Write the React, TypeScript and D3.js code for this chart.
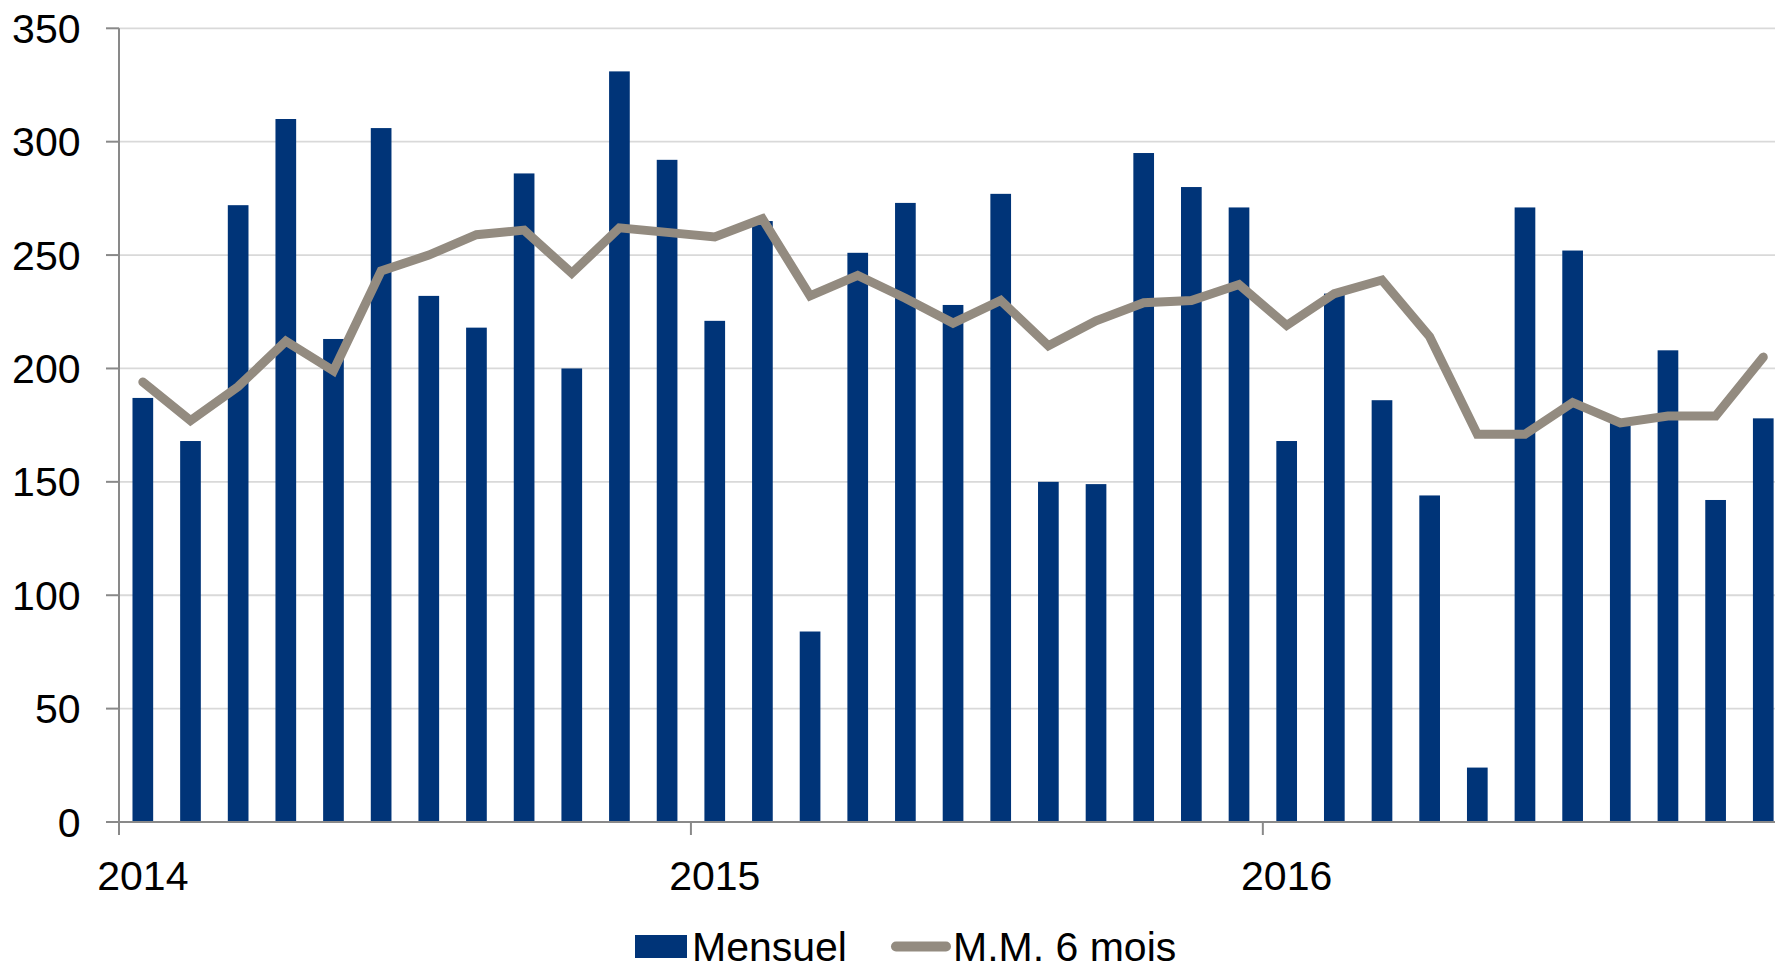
import React, { useEffect, useRef } from 'react';
import * as d3 from 'd3';

// months Jan 2014 .. Nov 2016
const months = [
  '2014-01', '2014-02', '2014-03', '2014-04', '2014-05', '2014-06',
  '2014-07', '2014-08', '2014-09', '2014-10', '2014-11', '2014-12',
  '2015-01', '2015-02', '2015-03', '2015-04', '2015-05', '2015-06',
  '2015-07', '2015-08', '2015-09', '2015-10', '2015-11', '2015-12',
  '2016-01', '2016-02', '2016-03', '2016-04', '2016-05', '2016-06',
  '2016-07', '2016-08', '2016-09', '2016-10', '2016-11',
];

const mensuel = [
  187, 168, 272, 310, 213, 306, 232, 218, 286, 200, 331, 292,
  221, 265, 84, 251, 273, 228, 277, 150, 149, 295, 280, 271,
  168, 233, 186, 144, 24, 271, 252, 176, 208, 142, 178,
];

const moyenneMobile = [
  194, 177, 192, 212, 199, 243, 250, 259, 261, 242, 262, 260,
  258, 266, 232, 241, 231, 220, 230, 210, 221, 229, 230, 237,
  219, 233, 239, 214, 171, 171, 185, 176, 179, 179, 205,
];

const yTicks = [0, 50, 100, 150, 200, 250, 300, 350];
const yearLabels = ['2014', '2015', '2016'];
const seriesNames = ['Mensuel', 'M.M. 6 mois'];

const FONT = "'Liberation Sans', Arial, sans-serif";
const NAVY = '#003478';
const TAUPE = '#938b80';

const App = () => {
  const svgRef = useRef<SVGSVGElement | null>(null);

  useEffect(() => {
    const width = 1775;
    const left = 119;
    const step = 47.66;
    const x0 = 822;
    const yTop = 28.3;

    const svg = d3.select(svgRef.current);
    svg.selectAll('*').remove();

    const xScale = d3.scaleBand<string>()
      .domain(months)
      .range([left, left + step * months.length])
      .paddingInner(0.566)
      .paddingOuter(0.283);

    const yScale = d3.scaleLinear().domain([0, 350]).range([x0, yTop]);

    // gridlines
    svg.append('g')
      .selectAll('line')
      .data(yTicks.filter(d => d > 0))
      .join('line')
      .attr('x1', left)
      .attr('x2', width)
      .attr('y1', d => yScale(d))
      .attr('y2', d => yScale(d))
      .attr('stroke', '#d9d9d9')
      .attr('stroke-width', 1.8);

    // bars
    svg.append('g')
      .selectAll('rect')
      .data(mensuel)
      .join('rect')
      .attr('x', (d, i) => xScale(months[i]) as number)
      .attr('y', d => yScale(d))
      .attr('width', xScale.bandwidth())
      .attr('height', d => yScale(0) - yScale(d))
      .attr('fill', NAVY);

    // axes
    const axisColor = '#898989';
    svg.append('line')
      .attr('x1', left).attr('x2', left)
      .attr('y1', yScale(350)).attr('y2', yScale(0) + 13)
      .attr('stroke', axisColor).attr('stroke-width', 2);
    svg.append('line')
      .attr('x1', left).attr('x2', width)
      .attr('y1', yScale(0)).attr('y2', yScale(0))
      .attr('stroke', axisColor).attr('stroke-width', 2);

    // y ticks + labels
    const yg = svg.append('g');
    yg.selectAll('line')
      .data(yTicks)
      .join('line')
      .attr('x1', left - 13).attr('x2', left)
      .attr('y1', d => yScale(d)).attr('y2', d => yScale(d))
      .attr('stroke', axisColor).attr('stroke-width', 2);
    yg.selectAll('text')
      .data(yTicks)
      .join('text')
      .attr('x', 80.5)
      .attr('y', d => yScale(d) + 14.5)
      .attr('text-anchor', 'end')
      .style('font-family', FONT)
      .style('font-size', '41px')
      .style('fill', '#000')
      .text(d => d);

    // year ticks + labels
    const xg = svg.append('g');
    yearLabels.forEach(yr => {
      const m = `${yr}-01`;
      const start = (xScale(m) as number) - xScale.step() * 0.283;
      const center = (xScale(m) as number) + xScale.bandwidth() / 2;
      xg.append('line')
        .attr('x1', start).attr('x2', start)
        .attr('y1', yScale(0)).attr('y2', yScale(0) + 13)
        .attr('stroke', axisColor).attr('stroke-width', 2);
      xg.append('text')
        .attr('x', center)
        .attr('y', 889.5)
        .attr('text-anchor', 'middle')
        .style('font-family', FONT)
        .style('font-size', '41px')
        .style('fill', '#000')
        .text(yr);
    });

    // moving average line
    const line = d3.line<number>()
      .x((d, i) => (xScale(months[i]) as number) + xScale.bandwidth() / 2)
      .y(d => yScale(d));

    svg.append('path')
      .datum(moyenneMobile)
      .attr('d', line)
      .attr('fill', 'none')
      .attr('stroke', TAUPE)
      .attr('stroke-width', 9)
      .attr('stroke-linejoin', 'miter')
      .attr('stroke-linecap', 'round');

    // legend
    const legend = svg.append('g');
    legend.append('rect')
      .attr('x', 635).attr('y', 935)
      .attr('width', 52).attr('height', 23)
      .attr('fill', NAVY);
    legend.append('text')
      .attr('x', 692).attr('y', 961)
      .style('font-family', FONT)
      .style('font-size', '41px')
      .style('fill', '#000')
      .text(seriesNames[0]);
    legend.append('line')
      .attr('x1', 896).attr('x2', 946)
      .attr('y1', 946.5).attr('y2', 946.5)
      .attr('stroke', TAUPE)
      .attr('stroke-width', 10)
      .attr('stroke-linecap', 'round');
    legend.append('text')
      .attr('x', 953).attr('y', 961)
      .style('font-family', FONT)
      .style('font-size', '41px')
      .style('fill', '#000')
      .text(seriesNames[1]);
  }, []);

  return (
    <div style={{ position: 'absolute', left: 0, top: 0, width: 1775, height: 965, background: '#fff' }}>
      <svg ref={svgRef} width={1775} height={965} style={{ display: 'block' }} />
    </div>
  );
};

export default App;
